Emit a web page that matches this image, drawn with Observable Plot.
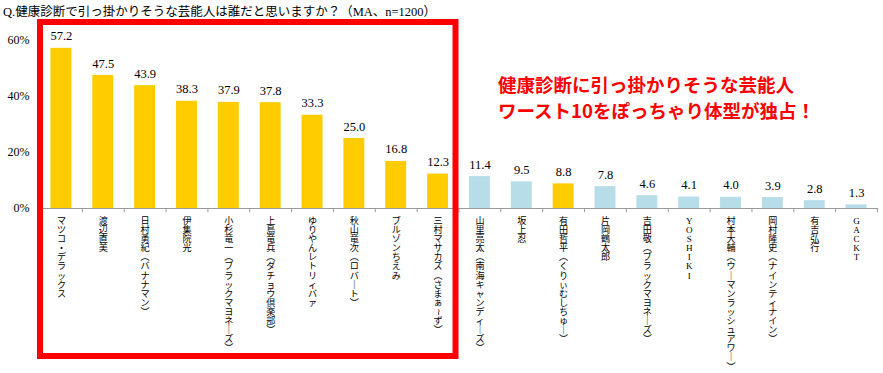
<!DOCTYPE html>
<html><head><meta charset="utf-8">
<script src="https://cdn.jsdelivr.net/npm/d3@7"></script>
<script src="https://cdn.jsdelivr.net/npm/@observablehq/plot@0.6"></script>
<style>
body{margin:0;background:#fff;}
#wrap{position:relative;width:883px;height:373px;overflow:hidden;}
#title{position:absolute;left:3px;top:1px;font:12.5px "Liberation Serif","Noto Sans CJK JP";color:#000;white-space:nowrap;}
#note{position:absolute;left:498px;top:71px;font:bold 18.5px "Noto Sans CJK JP";color:#ff0000;line-height:26px;white-space:nowrap;}
</style></head><body>
<div id="wrap">
<div id="chart"></div>
<div id="title">Q.健康診断で引っ掛かりそうな芸能人は誰だと思いますか？（MA、n=1200）</div>
<div id="note">健康診断に引っ掛かりそうな芸能人<br>ワースト10をぽっちゃり体型が独占！</div>
</div>
<script>
const names = ["マツコ・デラックス","渡辺直美","日村勇紀（バナナマン）","伊集院光","小杉竜一（ブラックマヨネーズ）","上島竜兵（ダチョウ倶楽部）","ゆりやんレトリィバァ","秋山竜次（ロバート）","ブルゾンちえみ","三村マサカズ（さまぁ～ず）","山里亮太（南海キャンディーズ）","坂上忍","有田哲平（くりぃむしちゅー）","片岡鶴太郎","吉田敬（ブラックマヨネーズ）","YOSHIKI","村本大輔（ウーマンラッシュアワー）","岡村隆史（ナインティナイン）","有吉弘行","GACKT"];
const values = [57.2,47.5,43.9,38.3,37.9,37.8,33.3,25.0,16.8,12.3,11.4,9.5,8.8,7.8,4.6,4.1,4.0,3.9,2.8,1.3];
const groups = ["ぽっちゃり","ぽっちゃり","ぽっちゃり","ぽっちゃり","ぽっちゃり","ぽっちゃり","ぽっちゃり","ぽっちゃり","ぽっちゃり","ぽっちゃり","その他","その他","ぽっちゃり","その他","その他","その他","その他","その他","その他","その他"];
const yTicks = [0,20,40,60];

const data = names.map((n,i)=>({name:n, value:values[i], group:groups[i]}));
const vmap = {"（":"︵","）":"︶","ー":"｜","～":"≀"};
const vert = s => Array.from(s).map(c=>vmap[c]||c).join("\n");

const W=883, H=373, ML=40, MR=6;
const step = (W-ML-MR)/names.length;
const inset = step/4;

const chart = Plot.plot({
  width:W, height:H, marginLeft:ML, marginRight:MR, marginTop:40, marginBottom:165,
  x:{type:"band", domain:names, padding:0, round:false, axis:null},
  y:{domain:[0,60], axis:null},
  color:{domain:["ぽっちゃり","その他"], range:["#FFCC00","#B7DDE8"]},
  style:{background:"#fff"},
  marks:[
    Plot.axisY({ticks:yTicks, tickFormat:d=>d+"%", tickSize:0, tickPadding:11, fontSize:12, fontFamily:"Liberation Serif", label:null}),
    Plot.barY(data,{x:"name", y:"value", fill:"group", insetLeft:inset, insetRight:inset}),
    Plot.ruleY([0],{stroke:"#999"}),
    Plot.ruleX(data,{x:"name", y1:0, y2:-1.5, dx:-step/2, stroke:"#999"}),
    Plot.ruleX([names[names.length-1]],{x:d=>d, y1:0, y2:-1.5, dx:step/2, stroke:"#999"}),
    Plot.text(data,{x:"name", y:"value", text:d=>d.value.toFixed(1), lineAnchor:"bottom", dy:-8, fontSize:12.5, fontFamily:"Liberation Serif", fill:"#000"}),
    Plot.text(data,{x:"name", y:()=>0, text:d=>vert(d.name), lineAnchor:"top", dy:9, lineHeight:1.0, fontSize:9.1, fontFamily:"Liberation Serif, Noto Sans CJK JP", fill:"#000"})
  ]
});
document.getElementById("chart").appendChild(chart);

// highlight box around the top-10 categories
const xs = chart.scale("x");
const left = xs.apply(names[0]);
const right = xs.apply(names[9]) + xs.bandwidth - 3;
d3.select(chart).append("rect")
  .attr("x", left).attr("y", 22)
  .attr("width", right-left).attr("height", 334)
  .attr("fill","none").attr("stroke","#ff0000").attr("stroke-width",6);
</script>
</body></html>
